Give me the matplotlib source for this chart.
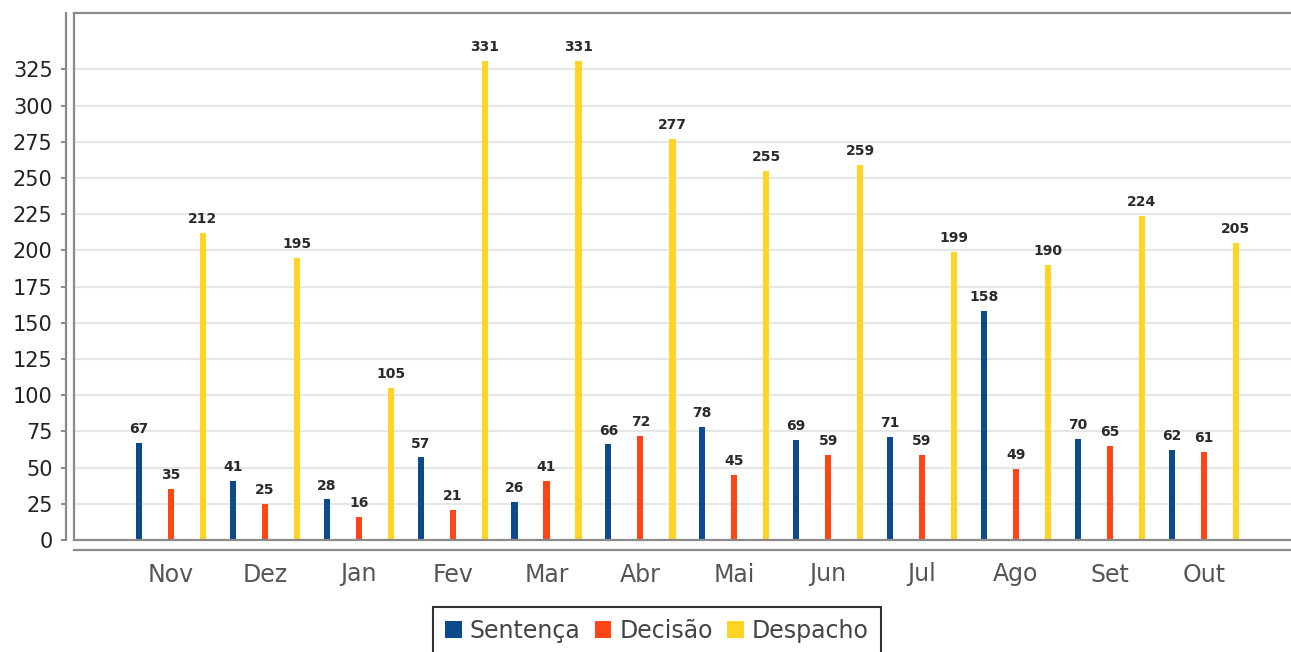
import matplotlib
matplotlib.use("Agg")
import matplotlib.pyplot as plt
from matplotlib.patches import Patch
import numpy as np

plt.rcParams["font.family"] = ["DejaVu Sans"]

months = ["Nov", "Dez", "Jan", "Fev", "Mar", "Abr", "Mai", "Jun", "Jul", "Ago", "Set", "Out"]
sentenca = [67, 41, 28, 57, 26, 66, 78, 69, 71, 158, 70, 62]
decisao = [35, 25, 16, 21, 41, 72, 45, 59, 59, 49, 65, 61]
despacho = [212, 195, 105, 331, 331, 277, 255, 259, 199, 190, 224, 205]
series_names = ["Sentença", "Decisão", "Despacho"]
colors = ["#0B4A8C", "#FF4515", "#FFD424"]
yticks = list(range(0, 326, 25))

W, H = 1291, 652
fig = plt.figure(figsize=(W / 100, H / 100), dpi=100)
ax = fig.add_axes([74 / W, (H - 540) / H, (W - 74) / W, (540 - 13) / H])

x = np.arange(len(months))
offset = 0.341
bw = 0.066
for k, (vals, c) in enumerate(zip([sentenca, decisao, despacho], colors)):
    pos = x + (k - 1) * offset
    ax.bar(pos, vals, width=bw, color=c, zorder=3)
    for px, v in zip(pos, vals):
        ax.annotate(str(v), (px, v), xytext=(0, 5), textcoords="offset points",
                    ha="center", va="bottom", fontsize=10, fontweight="bold",
                    color="#2A2A2A", zorder=4)

ax.set_xlim(-1.033, 11.93)
ax.set_ylim(0, 364)
ax.set_yticks(yticks)
ax.set_xticks(x)
ax.set_xticklabels(months)
ax.yaxis.grid(True, color="#E6E6E6", linewidth=1.5, zorder=0)
ax.set_axisbelow(True)

gray = "#8A8A8A"
ax.spines["right"].set_visible(False)
ax.spines["top"].set_color(gray)
ax.spines["top"].set_linewidth(1.6)
ax.spines["left"].set_position(("outward", 5.76))
ax.spines["left"].set_color(gray)
ax.spines["left"].set_linewidth(1.6)
ax.spines["bottom"].set_position(("outward", 7.2))
ax.spines["bottom"].set_color(gray)
ax.spines["bottom"].set_linewidth(1.6)
# plot box left and bottom borders
ax.plot([0, 0], [0, 1], transform=ax.transAxes, color=gray, lw=1.6, clip_on=False, zorder=5)
ax.plot([0, 1], [0, 0], transform=ax.transAxes, color=gray, lw=1.6, clip_on=False, zorder=5)

ax.tick_params(axis="y", length=3.6, width=1.4, color=gray, labelsize=15, labelcolor="#222222", pad=6)
ax.tick_params(axis="x", length=0, labelsize=17, labelcolor="#555555", pad=9)

handles = [Patch(facecolor=c, edgecolor="none") for c in colors]
leg = fig.legend(handles, series_names, loc="upper center", bbox_to_anchor=(657 / W, 1 - 607 / H),
                 ncol=3, fontsize=17, frameon=True, fancybox=False, edgecolor="black",
                 handlelength=0.7, handleheight=0.7, handletextpad=0.35, columnspacing=0.6,
                 borderpad=0.5, borderaxespad=0)
leg.get_frame().set_linewidth(1.5)
for t in leg.get_texts():
    t.set_color("#444444")

fig.savefig("out.png", dpi=100)
